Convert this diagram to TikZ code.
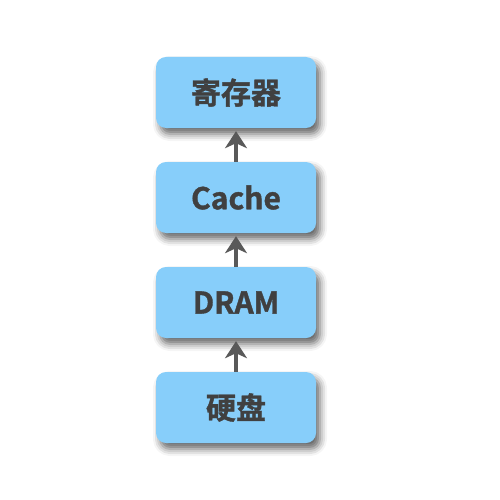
\documentclass[tikz,border=0pt]{standalone}
\usepackage{fontspec}
\newfontfamily\cjk[FakeBold=1.2]{Noto Sans CJK SC Bold}
\usetikzlibrary{arrows.meta,shadows.blur}
\definecolor{boxblue}{HTML}{87CEFA}
\definecolor{txtgray}{HTML}{404040}
\definecolor{arrgray}{HTML}{595959}
\begin{document}
\begin{tikzpicture}[x=1pt,y=1pt,
  memboxstyle/.style={rectangle, rounded corners=10pt, fill=boxblue, draw=none,
    minimum width=160pt, minimum height=71pt, inner sep=0pt,
    font=\cjk\fontsize{30}{34}\selectfont, text=txtgray,
    blur shadow={shadow xshift=4pt, shadow yshift=-6pt, shadow blur radius=7pt, shadow opacity=60}},
  uparrow/.style={draw=arrgray, line width=3.2pt, shorten >=3pt,
    -{Stealth[length=17pt, width=22pt, inset=5pt]}}]
\useasboundingbox (0,0) rectangle (500,-500);
\node[memboxstyle] (reg)   at (236,-92.5)  {寄存器};
\node[memboxstyle] (cache) at (236,-197.5) {Cache};
\node[memboxstyle] (dram)  at (236,-302.5) {DRAM};
\node[memboxstyle] (disk)  at (236,-407.5) {硬盘};
\draw[uparrow] (cache.north) -- (reg.south);
\draw[uparrow] (dram.north) -- (cache.south);
\draw[uparrow] (disk.north) -- (dram.south);
\end{tikzpicture}
\end{document}
